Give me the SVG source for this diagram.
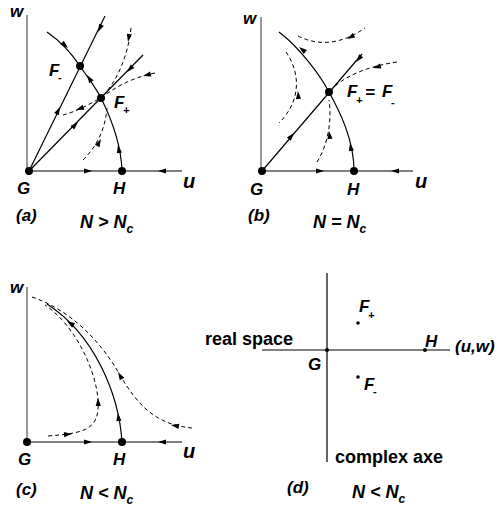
<svg xmlns="http://www.w3.org/2000/svg" xmlns:xlink="http://www.w3.org/1999/xlink" width="500" height="512" viewBox="0 0 500 512">
<style>
.t{font-family:"Liberation Sans",Arial,sans-serif;font-weight:bold;font-style:italic;font-size:17px;fill:#000}
.r{font-family:"Liberation Sans",Arial,sans-serif;font-weight:bold;font-size:18px;fill:#000}
.n{font-size:18px}
.s{font-size:12px}
.sm{font-size:11px}
.u{font-size:20px}
.ax{stroke:#777;stroke-width:1.5;fill:none}
.ln{stroke:#000;stroke-width:1.2;fill:none}
.ds{stroke:#000;stroke-width:1;fill:none;stroke-dasharray:4 3}
.dot{fill:#000}
</style>
<defs>
<path id="ah" d="M0,0 L-8,-2.6 L-8,2.6 Z" fill="#000"/>
</defs>

<!-- Panel (a) -->
<g id="panel-a">
  <g id="a-axes">
    <line class="ax" x1="27" y1="15" x2="27" y2="171"/>
    <line class="ln" x1="29" y1="171" x2="182" y2="171"/>
  </g>
  <g id="a-connectors">
    <line class="ln" x1="29" y1="171" x2="105" y2="16"/>
    <line class="ln" x1="29" y1="171" x2="143" y2="55"/>
    <path class="ln" d="M47,32 C60,41 72,54 80,66 S96,88 101,98 C107,110 121,140 122,171"/>
    <path class="ds" d="M131,28 C128,55 118,80 102,97"/>
    <path class="ds" d="M155,73 C130,78 115,88 102,97 C90,104 78,111 63,115"/>
    <path class="ds" d="M83,160 C95,148 105,132 107,108"/>
    <use xlink:href="#ah" transform="translate(60,107) rotate(-64)"/>
    <use xlink:href="#ah" transform="translate(98,32) rotate(116)"/>
    <use xlink:href="#ah" transform="translate(78,122) rotate(-45.5)"/>
    <use xlink:href="#ah" transform="translate(127,72) rotate(134.5)"/>
    <use xlink:href="#ah" transform="translate(68,48) rotate(42)"/>
    <use xlink:href="#ah" transform="translate(87,75) rotate(-123)"/>
    <use xlink:href="#ah" transform="translate(118,145) rotate(-100)"/>
    <use xlink:href="#ah" transform="translate(92,171) rotate(0)"/>
    <use xlink:href="#ah" transform="translate(158,171) rotate(180)"/>
    <use xlink:href="#ah" transform="translate(128,42) rotate(100)"/>
    <use xlink:href="#ah" transform="translate(143,76) rotate(165)"/>
    <use xlink:href="#ah" transform="translate(76,110) rotate(160)"/>
    <use xlink:href="#ah" transform="translate(101,139) rotate(-62)"/>
  </g>
  <g id="a-G"><circle class="dot" cx="29" cy="171" r="4"/><text class="t" x="17" y="194">G</text></g>
  <g id="a-H"><circle class="dot" cx="122" cy="171" r="4"/><text class="t" x="113" y="194">H</text></g>
  <g id="a-Fm"><circle class="dot" cx="80" cy="66" r="4"/><text class="t"><tspan x="49" y="76">F</tspan><tspan class="sm" x="58" y="81">-</tspan></text></g>
  <g id="a-Fp"><circle class="dot" cx="101" cy="98" r="4"/><text class="t"><tspan x="114" y="108">F</tspan><tspan class="sm" x="123" y="114">+</tspan></text></g>
  <text class="t" x="10" y="17">w</text>
  <text class="t u" x="183" y="188">u</text>
  <text class="t" x="16" y="221">(a)</text>
  <text class="t n" x="80" y="228">N &gt; N<tspan class="s" dy="5">c</tspan></text>
</g>

<!-- Panel (b) -->
<g id="panel-b">
  <g id="b-axes">
    <line class="ax" x1="261" y1="17" x2="261" y2="171"/>
    <line class="ln" x1="262" y1="171" x2="413" y2="171"/>
  </g>
  <g id="b-connectors">
    <line class="ln" x1="262" y1="171" x2="362" y2="54"/>
    <path class="ln" d="M279,32 C300,48 320,75 329,92 C340,112 354,140 354,171"/>
    <path class="ds" d="M298,36 Q330,52 365,28"/>
    <path class="ds" d="M286,52 C300,72 302,100 279,123"/>
    <path class="ds" d="M397,62 C370,66 345,75 331,90"/>
    <path class="ds" d="M317,162 C328,145 332,120 329,100"/>
    <use xlink:href="#ah" transform="translate(294,133) rotate(-49.5)"/>
    <use xlink:href="#ah" transform="translate(356,62) rotate(130.5)"/>
    <use xlink:href="#ah" transform="translate(299,47) rotate(-142)"/>
    <use xlink:href="#ah" transform="translate(350,143) rotate(-100)"/>
    <use xlink:href="#ah" transform="translate(324,171) rotate(0)"/>
    <use xlink:href="#ah" transform="translate(391,171) rotate(180)"/>
    <use xlink:href="#ah" transform="translate(347,39) rotate(152)"/>
    <use xlink:href="#ah" transform="translate(298,91) rotate(-93)"/>
    <use xlink:href="#ah" transform="translate(373,68) rotate(165)"/>
    <use xlink:href="#ah" transform="translate(329,131) rotate(-97)"/>
  </g>
  <g id="b-G"><circle class="dot" cx="262" cy="171" r="4"/><text class="t" x="250" y="195">G</text></g>
  <g id="b-H"><circle class="dot" cx="354" cy="171" r="4"/><text class="t" x="347" y="195">H</text></g>
  <g id="b-F"><circle class="dot" cx="329" cy="92" r="4"/><text class="t"><tspan x="347" y="97">F</tspan><tspan class="sm" x="356" y="104">+</tspan><tspan x="365" y="98">=</tspan><tspan x="382" y="97">F</tspan><tspan class="sm" x="391" y="106">-</tspan></text></g>
  <text class="t" x="243" y="24">w</text>
  <text class="t u" x="415" y="188">u</text>
  <text class="t" x="248" y="221">(b)</text>
  <text class="t n" x="313" y="228">N = N<tspan class="s" dy="5">c</tspan></text>
</g>

<!-- Panel (c) -->
<g id="panel-c">
  <g id="c-axes">
    <line class="ax" x1="27" y1="287" x2="27" y2="442"/>
    <line class="ln" x1="27" y1="442" x2="182" y2="442"/>
  </g>
  <g id="c-connectors">
    <path class="ln" d="M122,442 C119,395 95,335 47,304"/>
    <path class="ds" d="M32,297 C70,310 100,340 120,375 C140,410 160,425 192,428"/>
    <path class="ds" d="M48,436 C85,433 100,430 98,400 C96,370 75,325 45,305"/>
    <use xlink:href="#ah" transform="translate(118,413) rotate(-96)"/>
    <use xlink:href="#ah" transform="translate(67,321) rotate(-146)"/>
    <use xlink:href="#ah" transform="translate(118,372) rotate(-120)"/>
    <use xlink:href="#ah" transform="translate(171,425) rotate(190)"/>
    <use xlink:href="#ah" transform="translate(72,434) rotate(-4)"/>
    <use xlink:href="#ah" transform="translate(98,398) rotate(-92)"/>
    <use xlink:href="#ah" transform="translate(92,442) rotate(0)"/>
    <use xlink:href="#ah" transform="translate(158,442) rotate(180)"/>
  </g>
  <g id="c-G"><circle class="dot" cx="27" cy="442" r="4"/><text class="t" x="18" y="465">G</text></g>
  <g id="c-H"><circle class="dot" cx="122" cy="442" r="4"/><text class="t" x="113" y="465">H</text></g>
  <text class="t" x="10" y="293">w</text>
  <text class="t u" x="183" y="458">u</text>
  <text class="t" x="16" y="495">(c)</text>
  <text class="t n" x="80" y="499">N &lt; N<tspan class="s" dy="5">c</tspan></text>
</g>

<!-- Panel (d) -->
<g id="panel-d">
  <g id="d-axes">
    <line class="ln" x1="327" y1="273" x2="327" y2="462"/>
    <line class="ln" x1="262" y1="350" x2="450" y2="350"/>
  </g>
  <g id="d-G"><circle class="dot" cx="327" cy="350" r="2"/><text class="t" x="308" y="370">G</text></g>
  <g id="d-H"><circle class="dot" cx="425" cy="350" r="2"/><text class="t" x="425" y="347">H</text></g>
  <g id="d-Fp"><circle class="dot" cx="358" cy="323" r="1.8"/><text class="t"><tspan x="359" y="312">F</tspan><tspan class="sm" x="368" y="319">+</tspan></text></g>
  <g id="d-Fm"><circle class="dot" cx="358" cy="377" r="1.8"/><text class="t"><tspan x="364" y="390">F</tspan><tspan class="sm" x="373" y="395">-</tspan></text></g>
  <text class="r" x="293" y="345" text-anchor="end">real space</text>
  <text class="t" x="455" y="352">(u,w)</text>
  <text class="r" x="335" y="463">complex axe</text>
  <text class="t" x="287" y="493">(d)</text>
  <text class="t n" x="352" y="498">N &lt; N<tspan class="s" dy="5">c</tspan></text>
</g>
</svg>
